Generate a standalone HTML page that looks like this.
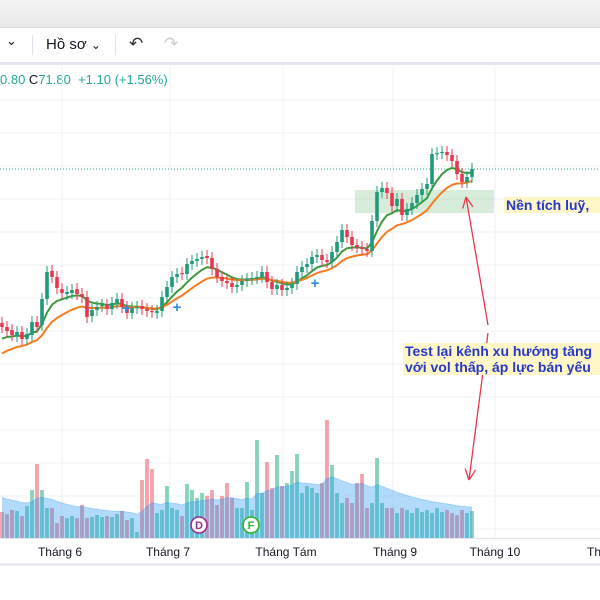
<!DOCTYPE html>
<html><head><meta charset="utf-8"><style>
body{margin:0;width:600px;height:600px;overflow:hidden;background:#fff;font-family:"Liberation Sans","Noto Sans CJK SC",sans-serif}
#top{position:absolute;left:0;top:0;width:600px;height:27px;background:linear-gradient(#f4f4f4,#e9e9e9);border-bottom:1px solid #ddd}
#tb{position:absolute;left:0;top:28px;width:600px;height:34px;background:#fff;border-bottom:3px solid #e3e6ee;font-size:15px;color:#131722}
.sep{position:absolute;top:7px;width:1px;height:20px;background:#e0e3eb}
#leg{position:absolute;left:0;top:72px;font-size:13px;color:#26a69a}
</style></head><body>
<div id="top"></div>
<div id="tb">
<span style="position:absolute;left:6px;top:5px;font-size:13px">⌄</span>
<div class="sep" style="left:32px"></div>
<span style="position:absolute;left:46px;top:8px">Hồ sơ <span style="font-size:12px">⌄</span></span>
<div class="sep" style="left:115px"></div>
<span style="position:absolute;left:129px;top:6px;font-size:17px;color:#333">↶</span>
<span style="position:absolute;left:164px;top:6px;font-size:17px;color:#ccc">↷</span>
</div>
<div id="leg">0.80 <span style="color:#131722">C</span>71.80 &nbsp;+1.10 (+1.56%)</div>
<svg id="ch" width="600" height="600" style="position:absolute;left:0;top:0"></svg>
<script>
const closes=[56.0,55.6,55.2,55.5,54.8,55.3,56.5,56.0,58.8,61.5,61.0,59.9,59.4,59.5,59.7,59.3,59.0,57.0,57.7,58.0,58.2,57.8,58.4,58.8,58.0,57.4,57.9,58.0,57.8,57.6,57.5,57.6,59.0,60.0,61.0,61.3,61.3,62.3,62.6,62.8,63.0,62.9,61.8,61.0,60.6,60.4,60.0,60.2,60.6,60.8,60.9,61.0,61.5,60.5,59.8,60.2,59.7,59.9,60.3,61.5,62.0,62.3,63.0,63.2,62.7,62.5,63.5,64.5,65.7,65.0,64.2,64.0,63.8,63.6,66.6,69.5,69.9,69.4,68.1,68.8,67.2,67.8,68.4,69.2,69.8,70.3,73.3,73.4,73.5,73.2,72.6,71.3,70.5,71.0,71.8];
const opens=[56.4,56.0,55.7,55.1,55.5,54.8,55.2,56.5,56.2,58.8,61.6,61.0,59.8,59.3,59.4,59.8,59.3,59.0,57.1,57.7,58.1,58.2,57.8,58.4,58.8,58.0,57.4,57.9,58.1,57.8,57.6,57.4,57.6,59.0,60.0,61.0,61.4,61.3,62.3,62.6,62.8,63.1,62.9,61.8,61.0,60.6,60.4,60.0,60.2,60.6,60.8,60.9,61.0,61.5,60.5,59.8,60.2,59.7,59.9,60.3,61.5,62.0,62.3,63.0,63.2,62.7,62.5,63.5,64.5,65.7,65.0,64.2,64.0,63.8,63.6,66.6,69.5,69.9,69.4,68.1,68.8,67.2,67.8,68.4,69.2,69.8,70.3,73.3,73.4,73.5,73.2,72.6,71.3,70.5,71.0];
const volumes=[26,24,28,27,22,32,48,74,48,30,30,15,22,20,22,20,33,20,21,23,21,22,21,24,27,18,20,6,58,79,69,25,28,52,30,28,22,54,48,40,45,42,48,33,42,55,40,30,30,56,28,98,45,76,50,83,52,55,67,84,45,52,50,45,55,118,73,45,35,40,35,55,64,30,35,80,35,30,30,25,30,28,25,30,26,28,25,30,26,28,25,23,28,25,27];
const timeLabels=["Tháng 6","Tháng 7","Tháng Tám","Tháng 9","Tháng 10","Th"];
const timeLabelPos=[60,168,286,395,495,594];
const svg=document.getElementById('ch');const NS='http://www.w3.org/2000/svg';
function el(t,a,p){const e=document.createElementNS(NS,t);for(const k in a)e.setAttribute(k,a[k]);(p||svg).appendChild(e);return e;}
const xOf=i=>2+5*i, yOf=p=>169-(p-71.8)*10, vBase=538, vY=v=>vBase-v;
for(const gx of [62,170,283,393,495]){const g=el('line',{x1:gx,x2:gx,y1:66,y2:538,stroke:'#f0f1f4'});}
for(let gy=100;gy<538;gy+=33){const g=el('line',{x1:0,x2:600,y1:gy,y2:gy,stroke:'#f0f1f4'});}
let ln=el('line',{x1:0,x2:600,y1:yOf(71.8),y2:yOf(71.8),stroke:'#26a69a','stroke-dasharray':'1 2','stroke-width':1});

let z=el('rect',{x:355,y:190,width:139,height:23,fill:'rgba(76,175,80,0.22)'});

let ema=42,pts=[];
volumes.forEach((v,i)=>{ema=ema+(v-ema)*2/21;pts.push(xOf(i)+','+vY(ema));});
volumes.forEach((v,i)=>{const up=closes[i]>=opens[i];const b=el('rect',{x:xOf(i)-1.9,y:vY(v),width:3.8,height:v,fill:up?'#86d3bd':'#f3a2aa'});
});
let va=el('polygon',{points:xOf(0)+','+vBase+' '+pts.join(' ')+' '+xOf(volumes.length-1)+','+vBase,fill:'rgba(33,150,243,0.35)'});

let vl=el('polyline',{points:pts.join(' '),fill:'none',stroke:'rgba(33,150,243,0.3)'});

function ma(seed,per,color,name){let e=seed,p=[];closes.forEach((c,i)=>{e=e+(c-e)*2/(per+1);p.push(xOf(i)+','+yOf(e));});
const l=el('polyline',{points:p.join(' '),fill:'none',stroke:color,'stroke-width':2});}
ma(54.5,8,'#3d9a3d','ma-short');ma(53.0,16,'#f57c20','ma-long');
closes.forEach((c,i)=>{const o=opens[i],up=c>=o,col=up?'#1f9a7a':'#e8374e',x=xOf(i);
const hi=Math.max(o,c)+0.6,lo=Math.min(o,c)-0.6;
const w=el('line',{x1:x,x2:x,y1:yOf(hi),y2:yOf(lo),stroke:col,'stroke-width':1});
const top=yOf(Math.max(o,c));const h=Math.max(1.2,Math.abs(o-c)*10);
const b=el('rect',{x:x-1.8,y:top,width:3.6,height:h,fill:col});});
for(const [mx,my] of [[126,308],[177,307],[315,283]]){const m=el('text',{x:mx,y:my+5,'font-size':15,'font-weight':'bold',fill:'#2f8de4','text-anchor':'middle'});m.textContent='+';}
[[199,525,'D','#9c2a8e'],[251,525,'F','#2bb52b']].forEach(([cx,cy,t,c])=>{const g=el('g',{});
el('circle',{cx,cy,r:8,fill:'#fff',stroke:c,'stroke-width':1.6},g);const tx=el('text',{x:cx,y:cy+4,'font-size':11,'font-weight':'bold',fill:c,'text-anchor':'middle'},g);tx.textContent=t;});
el('line',{x1:0,x2:600,y1:538.5,y2:538.5,stroke:'#e0e3eb'});el('line',{x1:0,x2:600,y1:564.5,y2:564.5,stroke:'#e0e3eb','stroke-width':2});
timeLabels.forEach((t,i)=>{const tx=el('text',{x:timeLabelPos[i],y:556,'font-size':12,fill:'#131722','text-anchor':'middle'});tx.textContent=t;});
for(const [x1,y1,x2,y2] of [[488,325,466,197],[488,333,469,480]]){const g=el('g',{});
el('line',{x1,y1,x2,y2,stroke:'#e8374e','stroke-width':1.3},g);const a=Math.atan2(y2-y1,x2-x1);
for(const d of [0.45,-0.45])el('line',{x1:x2,y1:y2,x2:x2-12*Math.cos(a+d),y2:y2-12*Math.sin(a+d),stroke:'#e8374e','stroke-width':1.3},g);}
function note(x,y,lines,name){const g=el('g',{});
lines.forEach((t,i)=>{el('rect',{x:x-2,y:y-13+i*16,width:220,height:16,fill:'#fff8c6'},g);const tx=el('text',{x,y:y+i*16,'font-size':14,'font-weight':'bold',fill:'#2638c8'},g);tx.textContent=t;});}
note(506,210,['Nền tích luỹ, '],'accumulation-note');
note(405,356,['Test lại kênh xu hướng tăng','với vol thấp, áp lực bán yếu'],'retest-note');
</script>
</body></html>
